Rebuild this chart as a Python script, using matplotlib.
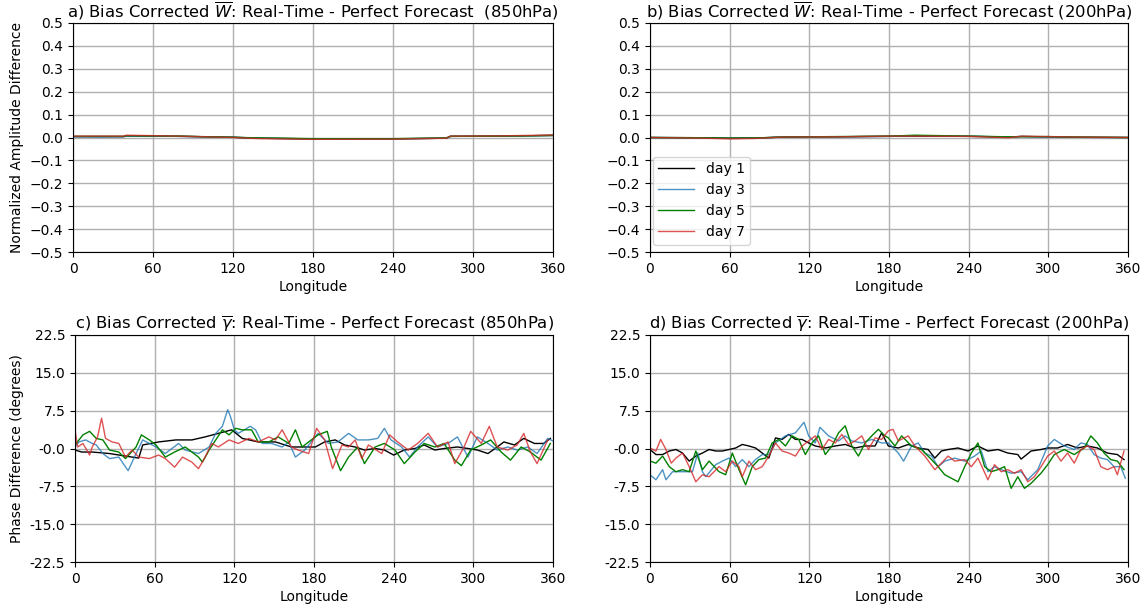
import matplotlib
matplotlib.use("Agg")
import matplotlib.pyplot as plt
import numpy as np

# ---------------- data ----------------
days = ["day 1", "day 3", "day 5", "day 7"]
colors = ["black", "#1f77b4", "green", "#d62728"]
alphas = [1.0, 0.8, 1.0, 0.8]

x_ticks = [0, 60, 120, 180, 240, 300, 360]
amp_ticks = [0.5, 0.4, 0.3, 0.2, 0.1, 0.0, -0.1, -0.2, -0.3, -0.4, -0.5]
amp_ticklabels = ["0.5", "0.4", "0.3", "0.2", "0.1", "0.0",
                  "\u22120.1", "\u22120.2", "\u22120.3", "\u22120.4", "\u22120.5"]
phase_ticks = [22.5, 15.0, 7.5, 0.0, -7.5, -15.0, -22.5]
phase_ticklabels = ["22.5", "15.0", "7.5", "-0.0", "-7.5", "-15.0", "-22.5"]

titles = [
    r"a) Bias Corrected $\overline{W}$: Real-Time - Perfect Forecast  (850hPa)",
    r"b) Bias Corrected $\overline{W}$: Real-Time - Perfect Forecast (200hPa)",
    r"c) Bias Corrected $\overline{\gamma}$: Real-Time - Perfect Forecast (850hPa)",
    r"d) Bias Corrected $\overline{\gamma}$: Real-Time - Perfect Forecast (200hPa)",
]

# panel a (850hPa amplitude)
a_lon = [0, 20, 38, 40, 80, 120, 140, 180, 240, 280, 283, 320, 360]
a_day1 = [0.004, 0.004, 0.004, 0.007, 0.005, 0.001, -0.003, -0.006, -0.006, -0.003, 0.005, 0.006, 0.009]
a_day3 = [0.003, 0.002, 0.003, 0.007, 0.005, 0.001, -0.003, -0.006, -0.006, -0.003, 0.005, 0.006, 0.009]
a_day5 = [0.005, 0.005, 0.005, 0.008, 0.006, 0.001, -0.002, -0.005, -0.005, -0.002, 0.005, 0.006, 0.009]
a_day7 = [0.006, 0.006, 0.006, 0.010, 0.006, 0.000, -0.005, -0.008, -0.007, -0.003, 0.006, 0.007, 0.011]

# panel b (200hPa amplitude)
b_lon = [0, 40, 60, 80, 100, 140, 180, 200, 240, 270, 280, 300, 320, 360]
b_day1 = [0.000, -0.001, -0.003, -0.002, 0.002, 0.003, 0.005, 0.006, 0.005, 0.002, 0.004, 0.003, 0.001, 0.000]
b_day3 = [0.000, -0.002, -0.004, -0.003, 0.002, 0.003, 0.005, 0.008, 0.006, 0.002, 0.005, 0.002, 0.001, 0.000]
b_day5 = [0.000, -0.001, -0.003, -0.002, 0.002, 0.004, 0.006, 0.010, 0.006, 0.003, 0.004, 0.004, 0.002, 0.000]
b_day7 = [0.000, -0.003, -0.006, -0.004, 0.002, 0.003, 0.006, 0.006, 0.005, -0.001, 0.006, 0.004, 0.002, 0.000]

# panel c (850hPa phase)
c_day1_lon = [0, 5, 13, 26, 38, 48, 51, 63, 76, 88, 98, 108, 118, 126, 138, 151, 163, 181, 188, 196, 203, 211, 218, 226, 233, 240, 248, 256, 263, 271, 278, 288, 296, 303, 311, 318, 323, 331, 338, 346, 353, 358]
c_day1_val = [-0.3, -0.7, -0.7, -1.0, -1.5, -1.9, 0.7, 1.3, 1.7, 1.7, 2.3, 3.0, 3.7, 2.0, 1.3, 1.3, 0.3, 0.3, 1.3, 1.7, 0.7, 0.3, -0.3, 0.0, -0.3, -1.3, -0.3, 0.0, 0.7, -0.3, 0.0, 0.3, 0.0, -0.3, -1.0, 0.3, 1.3, 0.7, 2.0, 1.0, 1.0, 2.0]
c_day3_lon = [0, 3, 8, 13, 16, 21, 26, 33, 40, 46, 51, 61, 68, 78, 83, 93, 101, 106, 111, 115, 117, 120, 123, 132, 136, 141, 148, 156, 161, 166, 173, 183, 191, 198, 206, 213, 221, 228, 233, 238, 246, 252, 258, 266, 273, 281, 288, 296, 303, 311, 318, 326, 333, 341, 348, 356, 360]
c_day3_val = [0.3, 1.3, 1.7, 1.0, 0.7, -1.0, -2.0, -1.7, -4.4, -1.0, 1.7, 0.3, -1.0, 1.0, -0.3, -1.0, 0.3, 3.0, 4.4, 7.7, 6.4, 3.7, 3.0, 4.4, 3.7, 1.0, 1.0, 0.3, 1.3, -1.7, -0.3, 3.0, 1.0, 1.3, 3.0, 1.7, 1.7, 2.0, 4.0, 1.7, 0.3, -1.7, 0.3, 2.3, 0.3, 1.0, 2.3, -1.7, 2.3, 1.0, -0.3, 0.3, -0.3, 0.3, -1.0, 2.0, 1.5]
c_day5_lon = [0, 6, 11, 16, 21, 26, 33, 38, 46, 50, 56, 61, 68, 75, 83, 93, 96, 101, 106, 111, 116, 121, 126, 133, 138, 146, 153, 161, 166, 171, 183, 190, 193, 200, 206, 213, 218, 226, 233, 241, 248, 256, 263, 271, 278, 286, 291, 298, 306, 313, 321, 328, 336, 343, 351, 358]
c_day5_val = [0.7, 2.7, 3.4, 2.0, 1.7, -0.3, -0.7, -2.0, 0.3, 2.7, 1.7, 0.7, -1.7, -0.7, 0.3, -1.7, -2.7, -0.3, 1.7, 3.7, 2.7, 4.0, 3.7, 3.7, 1.3, 1.3, 2.3, 1.0, 3.7, 0.3, 2.7, 3.4, 0.3, -4.4, -1.7, 0.3, -3.0, 0.3, 1.0, -0.3, -3.0, -0.7, 1.0, 0.3, 1.0, -2.3, -3.4, -0.3, 0.7, 1.7, -0.7, -2.3, 0.3, -0.7, -2.3, 1.0]
c_day7_lon = [0, 2, 6, 11, 13, 17, 20, 23, 28, 33, 38, 43, 48, 56, 63, 68, 75, 81, 88, 93, 98, 103, 108, 116, 123, 131, 138, 146, 151, 156, 163, 168, 176, 182, 188, 194, 201, 206, 211, 216, 221, 231, 237, 243, 251, 258, 266, 273, 281, 286, 293, 298, 306, 312, 318, 326, 333, 338, 343, 348, 356]
c_day7_val = [3.7, 0.3, 1.0, -1.3, 0.3, 2.3, 6.0, 2.0, 1.3, 1.0, -1.7, -0.3, -1.7, -2.0, -1.3, -2.0, -3.7, -1.7, -2.7, -4.0, -1.7, 1.0, 0.3, 1.7, 1.0, 2.0, 1.3, 2.3, 1.7, 3.7, 0.3, -0.3, -1.0, 4.0, 1.7, -4.0, 0.7, 0.3, 1.7, -2.0, 0.7, -1.0, 2.7, 1.3, -0.3, 1.0, 3.0, 0.3, 1.3, -3.0, 0.3, 3.4, 1.0, 4.4, 0.3, -0.3, 0.7, 3.0, -0.7, -3.0, 1.7]

# panel d (200hPa phase)
d_day1_lon = [0, 4.5, 9.5, 14.5, 19.5, 24.5, 29.5, 34.5, 39.5, 44.5, 49.5, 54.5, 59.5, 64.5, 69.5, 74.5, 79.5, 84.5, 89.5, 94.5, 99.5, 104.5, 109.5, 114.5, 119.5, 124.5, 132, 139.5, 147, 154.5, 162, 169.5, 174.5, 179.5, 187, 194.5, 202, 209.5, 214.5, 219.5, 224.5, 232, 239.5, 247, 254.5, 262, 269.5, 277, 279.5, 287, 294.5, 299.5, 307, 314.5, 322, 329.5, 337, 344.5, 352, 357]
d_day1_val = [-0.2, -1.2, -1.2, -0.5, -0.2, -0.9, -2.5, -1.5, -0.9, -0.2, -0.5, -0.5, -0.2, 0.1, 0.8, 0.5, 0.1, -0.9, -1.9, 2.1, 1.8, 2.8, 1.8, 1.8, 1.1, 0.5, 0.1, 0.5, 0.8, 0.1, 0.5, 0.5, 3.1, 0.5, 0.1, 0.8, 0.1, -0.2, -1.9, -0.5, -0.2, 0.1, -0.5, 0.5, -0.5, -0.2, -0.9, -1.2, -2.1, -0.5, -0.2, 0.1, 0.1, 0.8, 0.1, 0.5, 0.1, -0.9, -1.2, -2.2]
d_day3_lon = [0, 4.5, 9.5, 12, 17, 24.5, 32, 36, 39.5, 42, 49.5, 54.5, 59.5, 64.5, 69.5, 74.5, 79.5, 84.5, 89.5, 94.5, 102, 109.5, 116, 119.5, 124.5, 128, 134.5, 142, 147, 152, 159.5, 167, 174.5, 179.5, 187, 191, 197, 202, 207, 212, 217, 222, 229.5, 237, 244.5, 249.5, 254.5, 259.5, 264.5, 272, 279.5, 284.5, 292, 299.5, 304.5, 312, 319.5, 324.5, 329.5, 334.5, 339.5, 344.5, 349.5, 354.5, 358]
d_day3_val = [-5.2, -6.2, -4.2, -6.2, -4.6, -4.6, -4.6, -0.9, -4.6, -5.6, -3.2, -2.5, -1.9, -3.6, -2.2, -3.6, -2.2, -1.2, -1.2, 1.1, 2.5, 3.1, 5.2, 2.5, 1.1, 4.2, 2.5, 1.5, 2.5, 1.5, 1.1, 1.8, 1.1, 1.1, -0.9, -2.5, 0.5, 1.1, -0.9, -1.5, -3.6, -2.5, -1.9, -2.5, -1.5, -0.5, -4.6, -3.6, -4.2, -4.9, -4.6, -6.2, -4.2, 0.5, 1.8, 0.5, -0.2, 1.1, 0.8, -1.2, -1.9, -2.2, -3.6, -3.6, -5.9]
d_day5_lon = [0, 4.5, 9.5, 14.5, 19.5, 24.5, 29.5, 34.5, 39.5, 44.5, 52, 57, 62, 67, 72, 77, 82, 87, 92, 97, 102, 107, 112, 117, 122, 127, 132, 137, 142, 147, 152, 157, 162, 167, 172, 177, 179.5, 184.5, 189.5, 197, 204.5, 212, 217, 222, 227, 232, 237, 242, 247, 252, 257, 262, 267, 272, 277, 282, 287, 294.5, 299.5, 304.5, 312, 319.5, 327, 332, 337, 342, 347, 352, 357]
d_day5_val = [-2.5, -2.9, -1.5, -3.6, -4.6, -4.2, -4.6, -0.5, -4.2, -2.5, -4.6, -5.2, -0.9, -4.2, -7.2, -3.6, -2.2, -1.9, 1.1, 1.8, 0.5, 2.5, 1.8, -1.2, 1.1, 2.5, -1.2, 0.5, 3.1, 4.5, 0.5, -1.5, 1.1, 2.5, 3.8, 2.5, 2.1, 0.5, 2.5, 0.5, -0.2, -2.2, -3.6, -5.2, -5.9, -6.6, -3.6, -0.9, 1.1, -3.6, -4.6, -4.2, -3.6, -7.9, -5.6, -7.9, -6.9, -4.9, -3.2, -1.2, -0.2, -1.2, 0.1, 2.5, 1.1, -0.9, -2.2, -2.5, -4.2]
d_day7_lon = [0, 4.5, 8, 12, 16, 19.5, 24.5, 29.5, 34.5, 39.5, 44.5, 52, 57, 62, 67, 69.5, 74.5, 79.5, 84.5, 89.5, 94.5, 99.5, 104.5, 109.5, 114.5, 119.5, 124.5, 129.5, 134.5, 139.5, 144.5, 149.5, 154.5, 159.5, 164.5, 169.5, 174.5, 179.5, 183, 187, 194.5, 199.5, 207, 214.5, 219.5, 224.5, 229.5, 237, 242, 247, 254.5, 259.5, 264.5, 269.5, 274.5, 279.5, 284.5, 289.5, 294.5, 299.5, 304.5, 309.5, 314.5, 319.5, 324.5, 329.5, 334.5, 339.5, 344.5, 349.5, 352, 357]
d_day7_val = [0.1, -0.5, 1.8, -0.2, -2.9, -1.9, -0.9, -3.6, -6.6, -5.2, -5.6, -3.6, -4.6, -2.5, -3.6, -5.6, -2.5, -4.2, -3.6, -1.5, 1.1, -0.5, -0.9, -1.5, 0.5, 1.5, 2.5, -0.2, 1.8, 1.1, 2.8, 0.8, 1.5, 2.5, -0.2, 2.1, 1.8, 3.5, 3.8, 1.5, 2.5, 0.5, -1.5, -4.2, -2.9, -1.5, -2.5, -2.2, -3.6, -1.9, -6.2, -3.2, -4.6, -4.2, -4.9, -4.2, -6.6, -5.6, -3.6, -1.5, -0.5, -2.5, -0.9, -2.9, -0.2, 0.5, -0.2, -3.6, -4.2, -3.6, -5.2, -0.5]

# ---------------- figure ----------------
plt.rcParams['font.family'] = ['DejaVu Sans']
fig = plt.figure(figsize=(11.48, 6.10), dpi=100)

W, H = 1148.0, 610.0
def box(l, r, t, b):
    return [l / W, 1 - b / H, (r - l) / W, (b - t) / H]

ax_a = fig.add_axes(box(73, 553, 23, 252))
ax_b = fig.add_axes(box(650, 1128, 23, 252))
ax_c = fig.add_axes(box(75, 553, 335, 562))
ax_d = fig.add_axes(box(650, 1128, 335, 562))

amp_series = [
    (ax_a, a_lon, [a_day1, a_day3, a_day5, a_day7]),
    (ax_b, b_lon, [b_day1, b_day3, b_day5, b_day7]),
]
for ax, lon, ser in amp_series:
    for vals, col, al, lab in zip(ser, colors, alphas, days):
        ax.plot(lon, vals, color=col, alpha=al, lw=1.0, label=lab)

phase_series = [
    (ax_c, [(c_day1_lon, c_day1_val), (c_day3_lon, c_day3_val), (c_day5_lon, c_day5_val), (c_day7_lon, c_day7_val)]),
    (ax_d, [(d_day1_lon, d_day1_val), (d_day3_lon, d_day3_val), (d_day5_lon, d_day5_val), (d_day7_lon, d_day7_val)]),
]
for ax, ser in phase_series:
    for (lon, vals), col, al, lab in zip(ser, colors, alphas, days):
        ax.plot(lon, vals, color=col, alpha=al, lw=1.0, label=lab)

for ax, title in zip([ax_a, ax_b, ax_c, ax_d], titles):
    ax.set_xlim(0, 360)
    ax.set_xticks(x_ticks)
    ax.set_xticklabels([str(t) for t in x_ticks])
    ax.set_xlabel("Longitude", fontsize=10, labelpad=3)
    ax.grid(True, color="#b0b0b0", lw=1.0)
    ax.set_axisbelow(True)
    ax.set_title(title, fontsize=11.75, pad=4)
    ax.tick_params(labelsize=10, length=3.5, pad=3.5)

for ax in [ax_a, ax_b]:
    ax.set_ylim(-0.5, 0.5)
    ax.set_yticks(amp_ticks)
    ax.set_yticklabels(amp_ticklabels)
for ax in [ax_c, ax_d]:
    ax.set_ylim(-22.5, 22.5)
    ax.set_yticks(phase_ticks)
    ax.set_yticklabels(phase_ticklabels)

ax_a.set_ylabel("Normalized Amplitude Difference", fontsize=10)
ax_a.yaxis.set_label_coords((24 - 73) / 480.0, 0.5)
ax_c.set_ylabel("Phase Difference (degrees)", fontsize=10)
ax_c.yaxis.set_label_coords((24 - 75) / 478.0, 0.5)

ax_b.legend(loc="lower left", bbox_to_anchor=(0.0, 0.02), borderaxespad=0.2,
            fontsize=10, framealpha=0.8, handlelength=2.6)

fig.savefig("out.png", dpi=100)
